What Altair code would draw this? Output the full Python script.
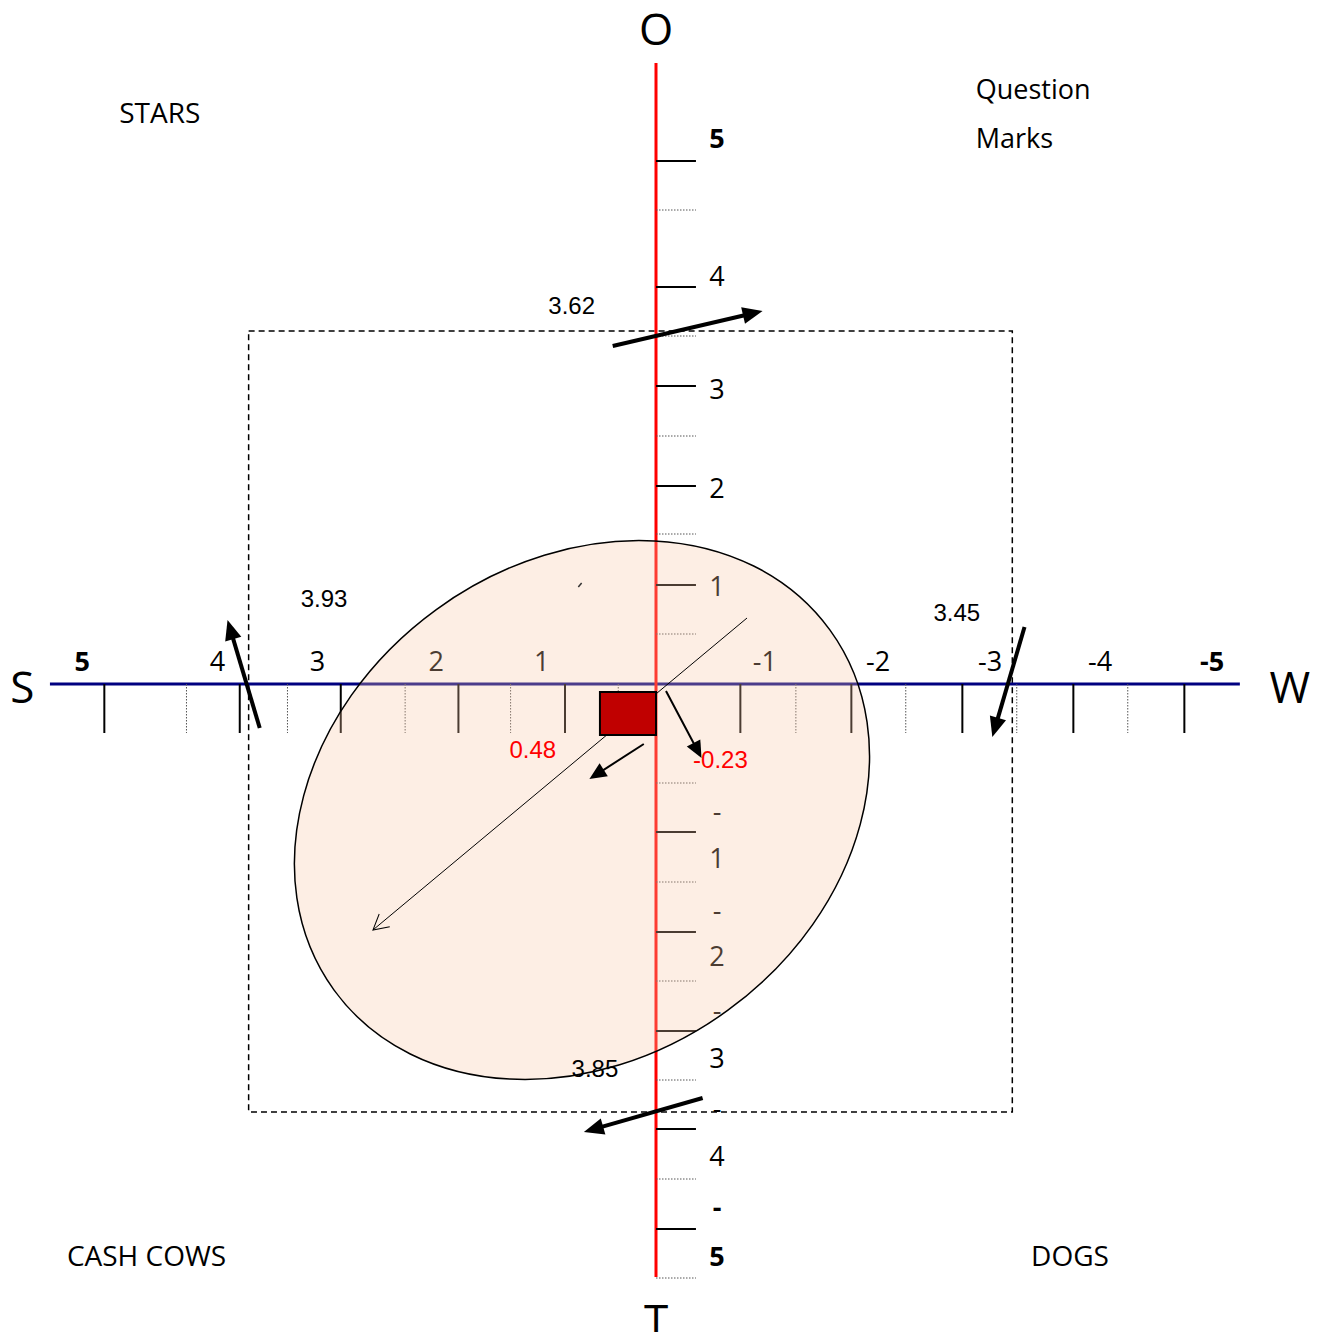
import math
import altair as alt
import pandas as pd

# ---------------- data (axis units) ----------------
# S–W axis (horizontal): positive towards S (left)
sw_labels = ["5", "4", "3", "2", "1", "-1", "-2", "-3", "-4", "-5"]
sw_label_pos = [5.17, 3.95, 3.05, 1.98, 1.03, -0.98, -2.0, -3.01, -4.0, -5.01]
sw_label_bold = [True, False, False, False, False, False, False, False, False, True]
sw_major = [4.97, 3.75, 2.84, 1.78, 0.82, -0.76, -1.76, -2.76, -3.76, -4.76]
sw_minor = [4.23, 3.32, 2.26, 1.31, 0.34, -1.26, -2.25, -3.25, -4.25]

# O–T axis (vertical): positive towards O (top)
ot_labels = ["5", "4", "3", "2", "1", "-", "1", "-", "2", "-", "3", "-", "4", "-", "5"]
ot_label_pos = [5.44, 4.06, 2.93, 1.94, 0.96, -1.29, -1.76, -2.28, -2.74, -3.28,
                -3.76, -4.26, -4.74, -5.25, -5.74]
ot_label_bold = [True] + [False] * 12 + [True, True]
ot_major = [5.23, 3.97, 2.98, 1.98, 0.99, -1.48, -2.48, -3.47, -4.45, -5.45]
ot_minor = [4.74, 3.48, 2.48, 1.50, 0.50, -0.99, -1.98, -2.97, -3.96, -4.95, -5.94]

axis_names = ["O", "S", "W", "T"]
axis_name_s = [0.0, 5.71, -5.71, 0.0]
axis_name_v = [6.52, -0.06, -0.06, -6.39]

quad_center = ["STARS", "CASH COWS", "DOGS"]
quad_center_s = [4.47, 4.59, -3.73]
quad_center_v = [5.69, -5.74, -5.74]
quad_left = ["Question", "Marks"]
quad_left_s = [-2.88, -2.88]
quad_left_v = [5.93, 5.44]

score_labels = ["3.62", "3.93", "3.45", "3.85"]
score_s = [0.76, 2.99, -2.71, 0.55]
score_v = [3.77, 0.84, 0.70, -3.86]

result_labels = ["0.48", "-0.23"]
result_s = [1.11, -0.58]
result_v = [-0.67, -0.77]

box_s = [3.67, -3.21]
box_v = [3.53, -4.28]

square_s = [0.505, 0.0]
square_v = [-0.08, -0.51]

ellipse_center = [0.667, -1.26]
ellipse_axes_px = [306.4, 247.8]
ellipse_tilt = 36.0

arrow_s1 = [0.39, 3.57, -3.32, -0.42, 0.11, -0.09, -0.82]
arrow_v1 = [3.38, -0.44, 0.57, -4.14, -0.60, -0.07, 0.66]
arrow_s2 = [-0.96, 3.86, -3.03, 0.65, 0.60, -0.41, 2.55]
arrow_v2 = [3.73, 0.64, -0.53, -4.48, -0.95, -0.74, -2.46]

# ---------------- layout ----------------
PX_X, PX_Y = 111.0, 100.0
W, H = 1303, 1324
CX, CY = 648.0, 676.0

xscale = alt.Scale(domain=[-(W - CX) / PX_X, CX / PX_X], reverse=True, nice=False, zero=False)
yscale = alt.Scale(domain=[-(H - CY) / PX_Y, CY / PX_Y], nice=False, zero=False)


def X(f):
    return alt.X(f"{f}:Q", scale=xscale, axis=None)


def Y(f):
    return alt.Y(f"{f}:Q", scale=yscale, axis=None)


def seg():
    return dict(x=X("s1"), y=Y("v1"), x2="s2", y2="v2")


# dashed box
box = alt.Chart(pd.DataFrame({"s1": [box_s[0]], "s2": [box_s[1]], "v1": [box_v[0]], "v2": [box_v[1]]})).mark_rect(
    fill="white", fillOpacity=0, stroke="black", strokeWidth=1.5, strokeDash=[6, 4]
).encode(**seg())

# axis lines
h_axis = alt.Chart(pd.DataFrame({"s1": [5.46], "s2": [-5.26], "v1": [0.0], "v2": [0.0]})).mark_rule(
    color="#000080", strokeWidth=3).encode(**seg())
v_axis = alt.Chart(pd.DataFrame({"s1": [0.0], "s2": [0.0], "v1": [6.21], "v2": [-5.93]})).mark_rule(
    color="#FF0000", strokeWidth=3).encode(**seg())

major_df = pd.DataFrame(
    [dict(s1=p, s2=p, v1=0.0, v2=-0.49) for p in sw_major]
    + [dict(s1=0.0, s2=-0.36, v1=p, v2=p) for p in ot_major]
)
minor_df = pd.DataFrame(
    [dict(s1=p, s2=p, v1=0.0, v2=-0.49) for p in sw_minor]
    + [dict(s1=0.0, s2=-0.36, v1=p, v2=p) for p in ot_minor]
)
majors = alt.Chart(major_df).mark_rule(color="black", strokeWidth=2).encode(**seg())
minors = alt.Chart(minor_df).mark_rule(color="#555555", strokeWidth=1, strokeDash=[1.5, 1.5]).encode(**seg())

lab_df = pd.DataFrame(
    [dict(s=p, v=0.21, t=t, b=b) for p, t, b in zip(sw_label_pos, sw_labels, sw_label_bold)]
    + [dict(s=-0.55, v=p, t=t, b=b) for p, t, b in zip(ot_label_pos, ot_labels, ot_label_bold)]
)
lab_norm = alt.Chart(lab_df).transform_filter("!datum.b").mark_text(
    font="Open Sans", fontSize=27, color="black", baseline="middle", align="center"
).encode(x=X("s"), y=Y("v"), text="t:N")
lab_bold = alt.Chart(lab_df).transform_filter("datum.b").mark_text(
    font="Open Sans", fontSize=27, fontWeight="bold", color="black", baseline="middle", align="center"
).encode(x=X("s"), y=Y("v"), text="t:N")

names = alt.Chart(pd.DataFrame({"s": axis_name_s, "v": axis_name_v, "t": axis_names})).mark_text(
    font="Open Sans", fontSize=44, color="black", baseline="middle", align="center"
).encode(x=X("s"), y=Y("v"), text="t:N")

quad_c = alt.Chart(pd.DataFrame({"s": quad_center_s, "v": quad_center_v, "t": quad_center})).mark_text(
    font="Open Sans", fontSize=28, color="black", baseline="middle", align="center"
).encode(x=X("s"), y=Y("v"), text="t:N")
quad_l = alt.Chart(pd.DataFrame({"s": quad_left_s, "v": quad_left_v, "t": quad_left})).mark_text(
    font="Open Sans", fontSize=27, color="black", baseline="middle", align="left"
).encode(x=X("s"), y=Y("v"), text="t:N")

# ellipse as a custom symbol (cubic bezier approximation of an ellipse)
r = ellipse_axes_px[1] / ellipse_axes_px[0]
k = 0.5523
kr = k * r
ell_path = (
    f"M-1,0C-1,{-kr:.4f},{-k},{-r:.4f},0,{-r:.4f}"
    f"C{k},{-r:.4f},1,{-kr:.4f},1,0"
    f"C1,{kr:.4f},{k},{r:.4f},0,{r:.4f}"
    f"C{-k},{r:.4f},-1,{kr:.4f},-1,0Z"
)
ellipse = alt.Chart(pd.DataFrame({"s": [ellipse_center[0]], "v": [ellipse_center[1]]})).mark_point(
    shape=ell_path, filled=True, fill="#F7C6A5", fillOpacity=0.3, stroke="black", strokeWidth=1.5,
    strokeOpacity=1, opacity=1, size=(2 * ellipse_axes_px[0]) ** 2, angle=360 - ellipse_tilt
).encode(x=X("s"), y=Y("v"))

stray = alt.Chart(pd.DataFrame({"s1": [0.70], "s2": [0.67], "v1": [0.97], "v2": [1.01]})).mark_rule(
    color="#333333", strokeWidth=1.5).encode(**seg())


def arrow_frame(idx, head_len, back_frac):
    rows = []
    for i in idx:
        s1, v1, s2, v2 = arrow_s1[i], arrow_v1[i], arrow_s2[i], arrow_v2[i]
        dx = -(s2 - s1) * PX_X
        dy = -(v2 - v1) * PX_Y
        L = math.hypot(dx, dy)
        ux, uy = dx / L, dy / L
        ang = math.degrees(math.atan2(ux, -uy)) % 360
        back = head_len * back_frac
        rows.append(dict(s1=s1, v1=v1, s2=s2 + ux * back / PX_X, v2=v2 + uy * back / PX_Y,
                         ts=s2, tv=v2, angle=ang))
    return pd.DataFrame(rows)


def arrows(idx, width, head_len, half_w, filled):
    df = arrow_frame(idx, head_len, 0.7 if filled else 0.0)
    shaft = alt.Chart(df).mark_rule(color="black", strokeWidth=width, strokeCap="butt").encode(**seg())
    if filled:
        head = alt.Chart(df).mark_point(
            shape=f"M0,0L{-half_w},1L{half_w},1Z", filled=True, fill="black", opacity=1,
            strokeWidth=0, size=(2 * head_len) ** 2
        ).encode(x=X("ts"), y=Y("tv"), angle=alt.Angle("angle:Q", scale=None))
    else:
        head = alt.Chart(df).mark_point(
            shape=f"M{-half_w},1L0,0L{half_w},1", filled=False, stroke="black", strokeWidth=1,
            opacity=1, size=(2 * head_len) ** 2
        ).encode(x=X("ts"), y=Y("tv"), angle=alt.Angle("angle:Q", scale=None))
    return shaft + head


thin_arrow = arrows([6], 1, 15, 0.55, False)
square = alt.Chart(pd.DataFrame({"s1": [square_s[0]], "s2": [square_s[1]], "v1": [square_v[0]], "v2": [square_v[1]]})).mark_rect(
    fill="#C00000", stroke="black", strokeWidth=2).encode(**seg())
thick_arrows = arrows([0, 1, 2, 3], 4, 20, 0.42, True)
mid_arrows = arrows([4, 5], 2, 17, 0.45, True)

scores = alt.Chart(pd.DataFrame({"s": score_s, "v": score_v, "t": score_labels})).mark_text(
    font="Liberation Sans", fontSize=24, color="black", baseline="middle", align="center"
).encode(x=X("s"), y=Y("v"), text="t:N")
results = alt.Chart(pd.DataFrame({"s": result_s, "v": result_v, "t": result_labels})).mark_text(
    font="Liberation Sans", fontSize=24, color="#FF0000", baseline="middle", align="center"
).encode(x=X("s"), y=Y("v"), text="t:N")

chart = alt.layer(
    box, h_axis, v_axis, majors, minors, lab_norm, lab_bold, names, quad_c, quad_l,
    ellipse, stray, thin_arrow, square, thick_arrows, mid_arrows, scores, results
).properties(
    width=W, height=H, padding=0, autosize=alt.AutoSizeParams(type="none")
).configure_view(stroke=None)

chart.save("out.html", embed_options={"renderer": "svg", "actions": False})
